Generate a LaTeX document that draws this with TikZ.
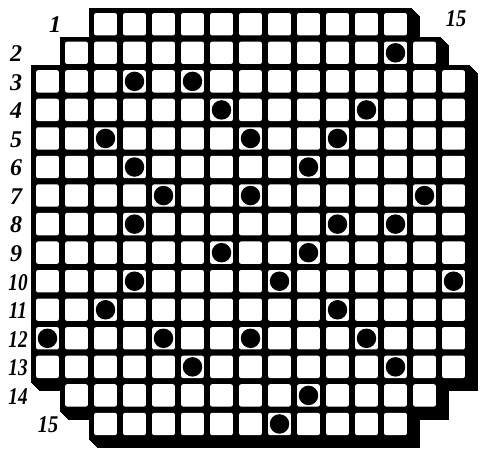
\documentclass[tikz,border=0pt]{standalone}
\usepackage{fontspec}
\setmainfont{Liberation Serif}
\begin{document}
\begin{tikzpicture}[x=1pt,y=-1pt,
  lbl/.style={font=\fontsize{24}{24}\selectfont\bfseries\itshape, inner sep=0pt, text=black},
  dot/.style={circle, fill=black, minimum size=19.5pt, inner sep=0pt},
  cellfill/.style={fill=white, rounded corners=2pt},
  board/.style={fill=black, draw=black, line width=4pt, line join=miter}]
\useasboundingbox (0,0) rectangle (485,454);
\begin{scope}[shift={(33,10)}, x=29pt, y=-28.55pt]
  % shadow
  \foreach \k in {1,...,8}{
    \path[board, shift={(\k pt,-\k pt)}] (2,0) -- (13,0) -- (13,1) -- (14,1) -- (14,2) -- (15,2) -- (15,13) -- (14,13) -- (14,14) -- (13,14) -- (13,15) -- (2,15) -- (2,14) -- (1,14) -- (1,13) -- (0,13) -- (0,2) -- (1,2) -- (1,1) -- (2,1) -- cycle;
  }
  % board
  \path[board] (2,0) -- (13,0) -- (13,1) -- (14,1) -- (14,2) -- (15,2) -- (15,13) -- (14,13) -- (14,14) -- (13,14) -- (13,15) -- (2,15) -- (2,14) -- (1,14) -- (1,13) -- (0,13) -- (0,2) -- (1,2) -- (1,1) -- (2,1) -- cycle;
  % cells
  \foreach \r/\a/\b in {1/3/13, 2/2/14, 3/1/15, 4/1/15, 5/1/15, 6/1/15, 7/1/15, 8/1/15, 9/1/15, 10/1/15, 11/1/15, 12/1/15, 13/1/15, 14/2/14, 15/3/13}{
    \foreach \c in {\a,...,\b}{
      \fill[cellfill] ([shift={(3.1pt,-3.1pt)}]\c-1,\r-1) rectangle ([shift={(-3.1pt,3.1pt)}]\c,\r);
    }
  }
  % dots (column/row)
  \foreach \c/\r [count=\i] in {13/2, 4/3, 6/3, 7/4, 12/4, 3/5, 8/5, 11/5, 4/6, 10/6, 5/7, 8/7, 14/7, 4/8, 11/8, 13/8, 7/9, 10/9, 4/10, 9/10, 15/10, 3/11, 11/11, 1/12, 5/12, 8/12, 12/12, 6/13, 13/13, 10/14, 9/15}{
    \node[dot] (d\i) at (\c-0.5,\r-0.5) {};
  }
\end{scope}
% labels
\node[lbl] (l1) at (55,25) {1};
\foreach \r in {2,...,9}{
  \node[lbl] (l\r) at (16,{10+28.55*(\r-0.5)+1}) {\r};
}
\foreach \r in {10,...,14}{
  \node[lbl] (l\r) at (18,{10+28.55*(\r-0.5)+1}) {\scalebox{0.8}[1]{\r}};
}
\node[lbl] (l15) at (48,425) {\scalebox{0.85}[1]{15}};
\node[lbl] (t15) at (456,19) {\scalebox{0.85}[1]{15}};
\end{tikzpicture}
\end{document}
